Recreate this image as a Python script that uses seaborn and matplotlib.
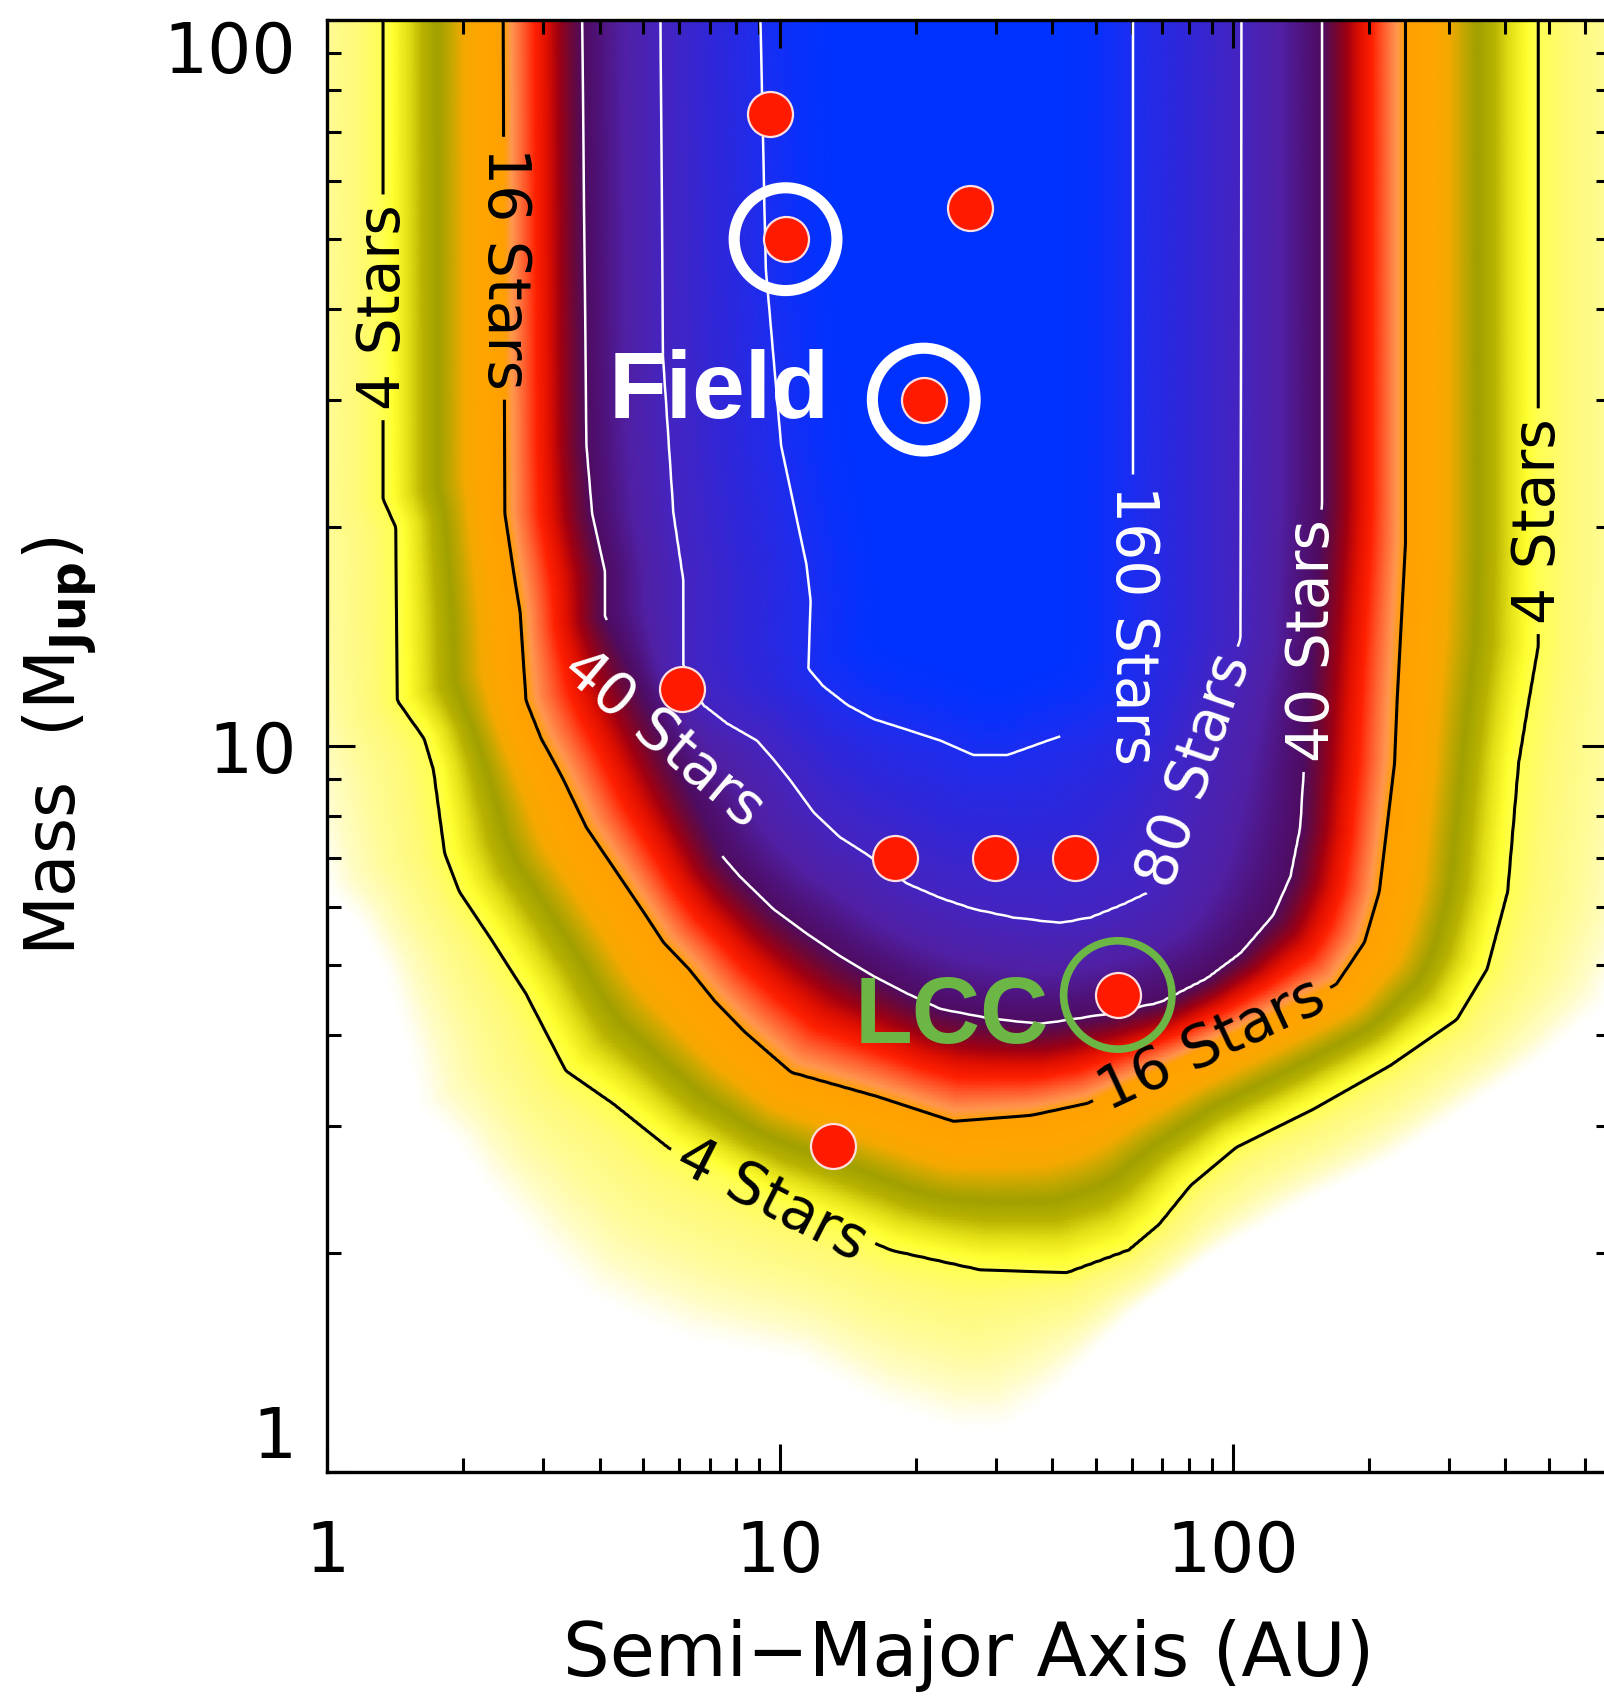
import numpy as np
import matplotlib
matplotlib.use("Agg")
import matplotlib.pyplot as plt
import seaborn as sns
from matplotlib.path import Path
from matplotlib.colors import LinearSegmentedColormap
from matplotlib.ticker import LogLocator, NullFormatter, FixedLocator, FixedFormatter

# ---------------- data ----------------
levels = [4, 16, 40, 80, 160]
level_labels = ["4 Stars", "16 Stars", "40 Stars", "80 Stars", "160 Stars"]

# outer fade edge of the sensitivity map (value ~0)
fade_a = [0.72, 0.72, 0.78, 0.88, 1.0, 1.17, 1.33, 1.51, 1.59, 1.96, 2.23, 2.89, 3.74, 4.86, 6.30,
          11.1, 16.4, 24.2, 31.6, 41.0, 60.3, 89.2, 151, 223, 330, 489, 663, 800, 950, 1000, 1000]
fade_M = [400, 20, 12, 8.3, 6.3, 5.68, 4.93, 3.80, 3.16, 2.80, 2.48, 2.06, 1.755, 1.62, 1.52,
          1.42, 1.24, 1.145, 1.145, 1.29, 1.65, 1.98, 2.38, 2.68, 3.16, 3.72, 4.37, 5.5, 9.0, 20, 400]

# traced contour lines (semi-major axis AU, mass MJup)
c4_a = [1.33, 1.33, 1.33, 1.42, 1.43, 1.64, 1.72, 1.82, 1.96, 2.29, 2.75, 3.37, 4.28, 5.67, 9.58,
        17.7, 27.7, 43.0, 59.0, 68.8, 80.8, 101.9, 150.8, 223, 313, 365, 405, 428, 451, 473, 473]
c4_M = [400, 100, 21.9, 20.0, 11.55, 10.24, 9.27, 7.11, 6.30, 5.45, 4.56, 3.57, 3.22, 2.80, 2.37,
        2.02, 1.90, 1.88, 2.02, 2.19, 2.48, 2.80, 3.16, 3.63, 4.20, 4.93, 6.30, 9.46, 11.55, 13.7, 400]

c16_a = [2.45, 2.45, 2.47, 2.60, 2.67, 2.75, 2.97, 3.30, 3.74, 4.28, 4.99, 5.54, 6.30, 7.19, 8.39,
         10.6, 16.4, 24.2, 35.9, 47.8, 90.0, 169.4, 195.6, 211, 228, 231, 241, 241]
c16_M = [400, 100, 20.9, 16.9, 15.3, 11.55, 10.24, 9.08, 7.72, 6.82, 5.92, 5.36, 4.93, 4.45, 4.03,
         3.55, 3.29, 3.04, 3.10, 3.22, 3.88, 4.69, 5.36, 6.30, 9.46, 11.55, 19.0, 400]

c40_a = [3.66, 3.66, 3.74, 3.85, 4.11, 4.11, 5.54, 7.47, 8.16, 9.68, 11.49, 13.56, 16.10, 19.11,
         22.68, 29.25, 37.7, 52.8, 69.2, 87.7, 104.2, 123, 134.4, 141.2, 143.6, 150, 157.7, 157.7]
c40_M = [400, 100, 25.9, 20.9, 17.4, 15.1, 10.24, 7.04, 6.61, 5.96, 5.51, 5.14, 4.82, 4.56,
         4.34, 4.21, 4.14, 4.27, 4.43, 4.78, 5.18, 5.84, 6.61, 7.72, 9.14, 13.96, 21.6, 400]

c80_a = [5.45, 5.45, 5.52, 5.82, 6.12, 6.12, 6.76, 7.64, 8.91, 9.68, 10.52, 11.88, 13.56, 15.57,
         19.11, 22.68, 26.77, 32.85, 41.6, 48.6, 57.4, 65.1, 82.6, 104.2, 104.7, 104.7]
c80_M = [400, 100, 34.3, 20.9, 16.9, 12.9, 11.39, 10.74, 10.17, 9.59, 8.99, 8.10, 7.49, 7.09,
         6.46, 6.17, 5.96, 5.80, 5.70, 5.80, 6.05, 6.28, 9.24, 14.06, 100, 400]

c160_a = [9.06, 9.06, 9.31, 10.07, 11.45, 11.7, 11.56, 12.48, 14.09, 16.1, 19.11, 22.68, 26.77,
          31.8, 38.99, 47.5, 56.1, 60.3, 60.3, 60.3]
c160_M = [400, 100, 45.5, 25.9, 17.8, 15.85, 12.77, 12.08, 11.39, 10.89, 10.53, 10.17, 9.72,
          9.72, 10.17, 10.6, 11.36, 13.0, 100, 400]
peak_value = 220

# detected companions
dot_a = [9.52, 10.3, 26.3, 20.8, 6.09, 17.98, 29.9, 44.9, 55.8, 13.1]
dot_M = [74.2, 49.9, 55.0, 30.0, 12.0, 7.01, 7.0, 7.0, 4.54, 2.81]
field_idx = [1, 3]
lcc_idx = [8]

# contour label anchor points and orientations
label_pos_a = [1.33, 2.45, 5.54, 9.58, 90.0, 82.6, 150, 60.3, 473]
label_pos_M = [40.2, 45.5, 10.24, 2.37, 3.88, 9.24, 13.96, 14.7, 20.4]
label_rot = [90, -90, -40, -27, 25, 71, 90, -90, 90]

# ---------------- build the field from traced contours ----------------
SX, SY = 452.7, 726.0  # px per decade (for distance in screen-like space)
xmax = 682.0
nx, ny = 620, 420
la = np.linspace(0, np.log10(xmax), nx)
lm = np.linspace(0, 2, ny)
LA, LM = np.meshgrid(la, lm)
PU, PV = LA * SX, LM * SY
pts = np.column_stack([PU.ravel(), PV.ravel()])


def to_px(a, m):
    return np.log10(np.asarray(a, float)) * SX, np.log10(np.asarray(m, float)) * SY


def dist(xs, ys):
    d = np.full(PU.shape, np.inf)
    for i in range(len(xs) - 1):
        x0, y0, x1, y1 = xs[i], ys[i], xs[i + 1], ys[i + 1]
        dx, dy = x1 - x0, y1 - y0
        L2 = dx * dx + dy * dy
        if L2 == 0:
            continue
        t = np.clip(((PU - x0) * dx + (PV - y0) * dy) / L2, 0, 1)
        d = np.minimum(d, np.hypot(PU - (x0 + t * dx), PV - (y0 + t * dy)))
    return d


polys = [(fade_a, fade_M), (c4_a, c4_M), (c16_a, c16_M), (c40_a, c40_M), (c80_a, c80_M), (c160_a, c160_M)]
inside, dists = [], []
for a_, m_ in polys:
    xs, ys = to_px(a_, m_)
    poly = Path(np.column_stack([np.append(xs, xs[0]), np.append(ys, ys[0])]))
    inside.append(poly.contains_points(pts).reshape(PU.shape))
    dists.append(dist(xs, ys))

k = np.sum(np.array(inside), axis=0)
N = np.zeros(PU.shape)
bounds = [0] + levels
for b in range(1, 6):
    sel = k == b
    t = dists[b - 1][sel] / (dists[b - 1][sel] + dists[b][sel])
    lo, hi = bounds[b - 1], bounds[b]
    if lo == 0:
        N[sel] = hi * t
    else:
        N[sel] = lo * (hi / lo) ** t
sel = k == 6
N[sel] = levels[-1] + (peak_value - levels[-1]) * np.minimum(dists[5][sel] / 70.0, 1.0)

A = 10 ** LA
M = 10 ** LM

# colormap nodes (value -> colour)
cnodes = [
    (0, "#ffffff"), (0.3, "#fffef2"), (1.0, "#fffcc4"), (2.0, "#fffb98"), (3.2, "#fffa76"), (4.0, "#ffff50"),
    (4.47, "#ffff30"), (5.28, "#e6e218"), (6.29, "#b8b200"), (7.46, "#a0a000"), (8.8, "#c8a800"),
    (10.1, "#f5a800"), (12.1, "#ffa500"), (16.0, "#ffa000"),
    (17.5, "#ff9850"), (20.1, "#ff6030"), (23.1, "#ff2000"), (26.4, "#e01000"), (30.3, "#a00012"),
    (34.9, "#6e0838"), (40.0, "#4e0c62"),
    (45.9, "#4e1278"), (56.6, "#5020a4"), (80.0, "#4524c0"),
    (113, "#3026d8"), (160, "#1c2df0"), (190, "#0a30fb"), (220, "#0032ff"),
]
cmap = LinearSegmentedColormap.from_list("sens", [(v / peak_value, c) for v, c in cnodes], N=4096)

# ---------------- figure ----------------
sns.set_style("ticks")
plt.rcParams["font.family"] = ["DejaVu Sans"]
plt.rcParams["mathtext.default"] = "regular"
for key in ["text.color", "axes.labelcolor", "xtick.color", "ytick.color", "axes.edgecolor"]:
    plt.rcParams[key] = "black"

fig = plt.figure(figsize=(16.04, 17.03), dpi=100)
ax = fig.add_axes([327 / 1604, 1 - 1472 / 1703, (1610 - 327) / 1604, (1472 - 20) / 1703])
ax.set_xscale("log")
ax.set_yscale("log")
ax.set_facecolor("white")

ax.pcolormesh(A, M, N, cmap=cmap, vmin=0, vmax=peak_value, shading="gouraud", zorder=0, rasterized=True)

cs = ax.contour(A, M, N, levels=levels, colors=["black", "black", "white", "white", "white"],
                linewidths=[2.2, 2.2, 1.8, 1.8, 1.8], zorder=2)
fmt = {lv: lb for lv, lb in zip(levels, level_labels)}
texts = ax.clabel(cs, fmt=fmt, manual=list(zip(label_pos_a, label_pos_M)), inline=True,
                  inline_spacing=10, fontsize=42)
for t, r in zip(texts, label_rot):
    t.set_rotation(r)

sns.scatterplot(x=dot_a, y=dot_M, ax=ax, s=1050, color="#ff1a00", edgecolor="#ffe0e0",
                linewidth=1.6, zorder=5, legend=False)
ax.scatter([dot_a[i] for i in field_idx], [dot_M[i] for i in field_idx], s=74 ** 2,
           facecolors="none", edgecolors="white", linewidths=8, zorder=6)
ax.scatter([dot_a[i] for i in lcc_idx], [dot_M[i] for i in lcc_idx], s=78 ** 2,
           facecolors="none", edgecolors="#6cb645", linewidths=5.5, zorder=6)

ax.text(7.34, 28.3, "Field", color="white", fontsize=68, fontweight="bold",
        family=["Liberation Sans", "DejaVu Sans"], ha="center", va="baseline", zorder=7)
ax.text(24.0, 3.90, "LCC", color="#6cb645", fontsize=68, fontweight="bold",
        family=["Liberation Sans", "DejaVu Sans"], ha="center", va="baseline", zorder=7)

ax.set_xlim(1, xmax)
ax.set_ylim(1, 100)

ax.xaxis.set_major_locator(FixedLocator([1, 10, 100]))
ax.xaxis.set_major_formatter(FixedFormatter(["1", "10", "100"]))
ax.yaxis.set_major_locator(FixedLocator([1, 10, 100]))
ax.yaxis.set_major_formatter(FixedFormatter(["1", "10", "100"]))
ax.xaxis.set_minor_locator(LogLocator(base=10, subs=np.arange(2, 10), numticks=20))
ax.yaxis.set_minor_locator(LogLocator(base=10, subs=np.arange(2, 10), numticks=20))
ax.xaxis.set_minor_formatter(NullFormatter())
ax.yaxis.set_minor_formatter(NullFormatter())

ax.tick_params(which="both", direction="in", top=True, right=True, color="black", width=2.2)
ax.tick_params(which="major", length=20)
ax.tick_params(which="minor", length=10)
ax.tick_params(axis="x", which="major", labelsize=50, pad=34)
ax.tick_params(axis="y", which="major", labelsize=50, pad=22)
for s in ax.spines.values():
    s.set_linewidth(2.4)
    s.set_color("black")

# keep the end labels of the mass axis inside the frame (as in the reference)
yticks = ax.yaxis.get_major_ticks()
yticks[0].label1.set_va("bottom")
yticks[-1].label1.set_va("top")

ax.set_xlabel("Semi\u2212Major Axis (AU)", fontsize=53)
ax.set_ylabel(r"Mass  (M$_{\mathbf{Jup}}$)", fontsize=50)
ax.xaxis.label.set_va("center")
ax.yaxis.label.set_va("center")
ax.xaxis.set_label_coords(0.5, (1472 - 1656) / 1452)
ax.yaxis.set_label_coords((60 - 327) / 1283, 0.5)

fig.savefig("out.png", dpi=100, facecolor="white")
